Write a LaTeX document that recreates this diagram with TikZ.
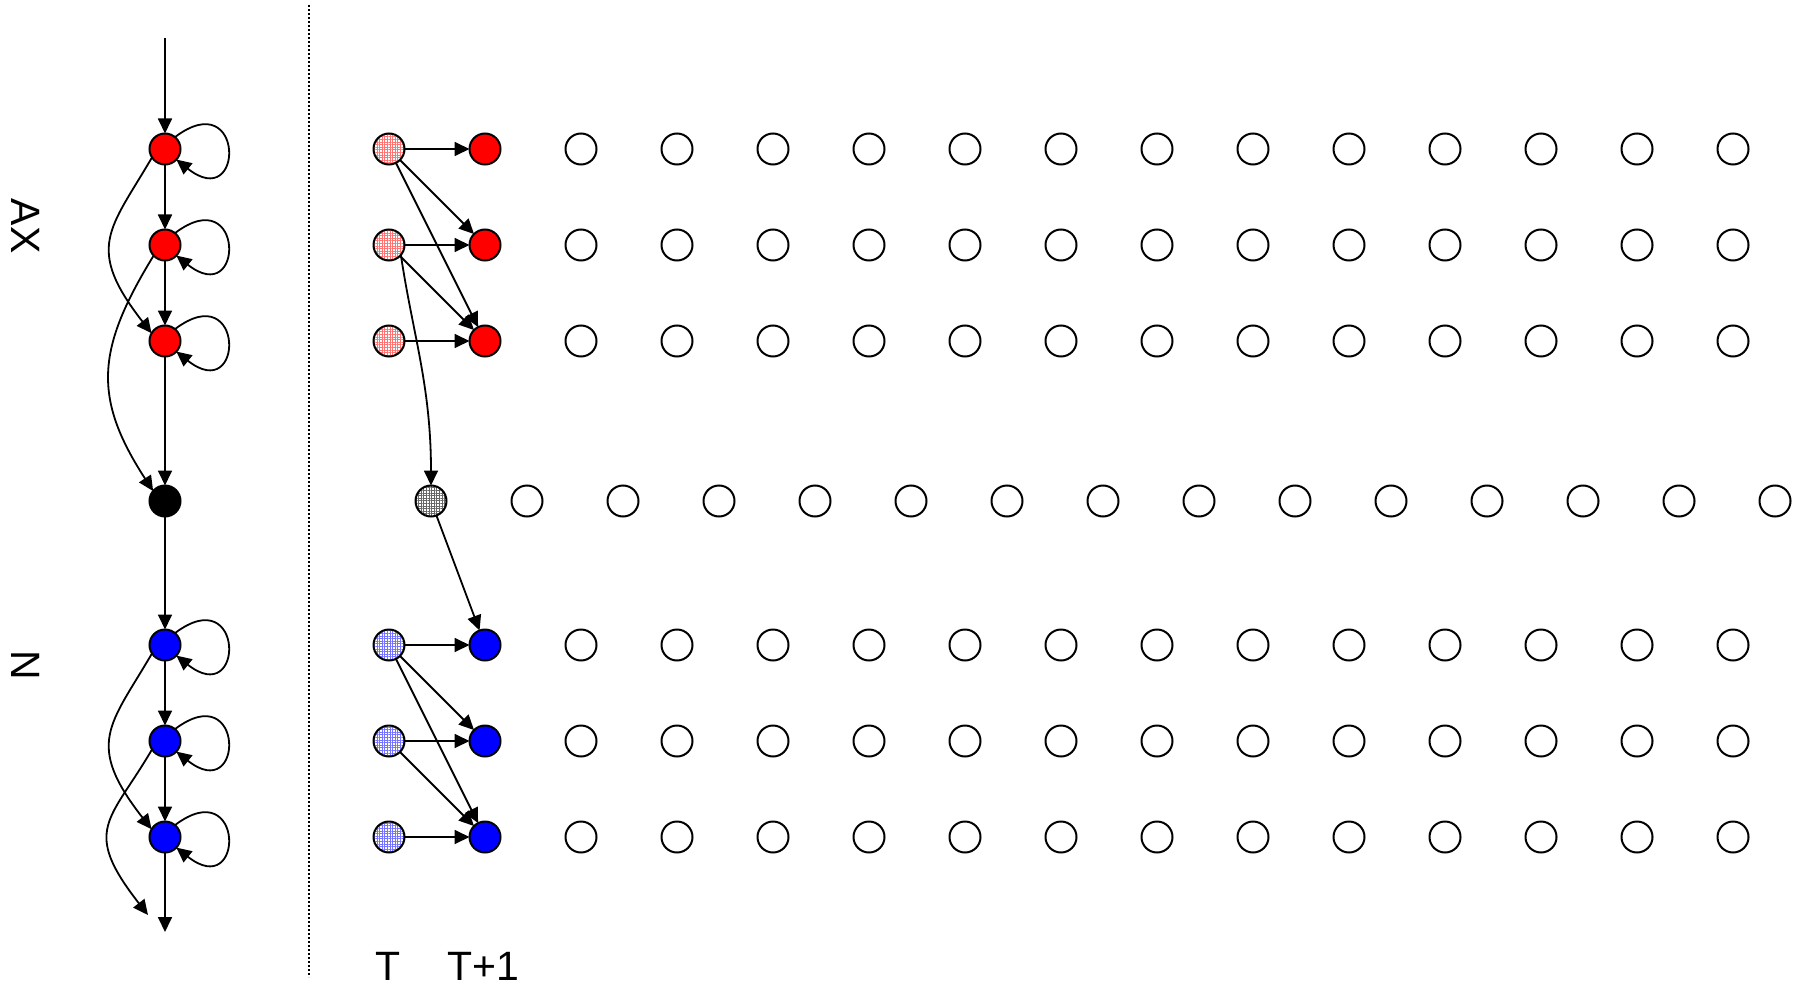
\documentclass[tikz,border=0pt]{standalone}
\usepackage{fontspec}
\setmainfont{Liberation Sans}
\usetikzlibrary{arrows.meta,calc,patterns.meta}
\begin{document}
\begin{tikzpicture}[x=1pt,y=-1pt,
  arr/.style={line width=1.8pt,-{Triangle[length=15pt,width=14pt]}},
  st/.style={circle,draw,line width=2pt,minimum size=31pt,inner sep=0pt,outer sep=0pt},
  rednode/.style={st,fill=red},
  bluenode/.style={st,fill=blue},
  blacknode/.style={st,fill=black},
  opennode/.style={st},
  pinknode/.style={st,preaction={fill=white},pattern={Hatch[distance=2.6pt,line width=0.7pt]},pattern color=red!55},
  lbluenode/.style={st,preaction={fill=white},pattern={Hatch[distance=2.6pt,line width=0.7pt]},pattern color=blue!55},
  graynode/.style={st,preaction={fill=white},pattern={Hatch[distance=2.6pt,line width=0.7pt]},pattern color=black!60},
  lbl/.style={font=\fontsize{41}{49}\selectfont,inner sep=0pt,outer sep=0pt},
  dotline/.style={line width=2.2pt,dash pattern=on 2pt off 2pt}
]
\useasboundingbox (0,0) rectangle (1801,987);

% coordinates
\coordinate (top) at (165,38);
\coordinate (bot) at (165,932);
\coordinate (bend) at (148,915);
\coordinate (dtop) at (309,5);
\coordinate (dbot) at (309,977);

% separator
\draw[dotline] (dtop) -- (dbot);

% left column
\node[rednode] (r1) at (165,149) {};
\node[rednode] (r2) at (165,245) {};
\node[rednode] (r3) at (165,341) {};
\node[blacknode] (bk) at (165,501) {};
\node[bluenode] (b1) at (165,645) {};
\node[bluenode] (b2) at (165,741) {};
\node[bluenode] (b3) at (165,837) {};

\draw[arr] (top) -- (r1);
\draw[arr] (r1) -- (r2);
\draw[arr] (r2) -- (r3);
\draw[arr] (r3) -- (bk);
\draw[arr] (bk) -- (b1);
\draw[arr] (b1) -- (b2);
\draw[arr] (b2) -- (b3);
\draw[arr] (b3) -- (bot);

\foreach \n in {r1,r2,r3,b1,b2,b3}
  \draw[arr] (\n.50) .. controls ($(\n)+(80,-65)$) and ($(\n)+(80,65)$) .. (\n.-43);

\draw[arr] (r1.213) .. controls +(-42,72) and +(-67,-86) .. (r3.150);
\draw[arr] (r2.223) .. controls +(-57,93) and +(-61,-94) .. (bk.140);
\draw[arr] (b1.213) .. controls +(-42,72) and +(-67,-86) .. (b3.150);
\draw[arr] (b2.213) .. controls +(-42,72) and +(-67,-86) .. (bend);

% right part: T and T+1
\node[pinknode] (tr1) at (389,149) {};
\node[pinknode] (tr2) at (389,245) {};
\node[pinknode] (tr3) at (389,341) {};
\node[rednode] (ur1) at (485,149) {};
\node[rednode] (ur2) at (485,245) {};
\node[rednode] (ur3) at (485,341) {};
\node[graynode] (tg) at (431,501) {};
\node[lbluenode] (tb1) at (389,645) {};
\node[lbluenode] (tb2) at (389,741) {};
\node[lbluenode] (tb3) at (389,837) {};
\node[bluenode] (ub1) at (485,645) {};
\node[bluenode] (ub2) at (485,741) {};
\node[bluenode] (ub3) at (485,837) {};

\draw[arr] (tr1) -- (ur1);
\draw[arr] (tr1) -- (ur2);
\draw[arr] (tr1) -- (ur3);
\draw[arr] (tr2) -- (ur2);
\draw[arr] (tr2) -- (ur3);
\draw[arr] (tr3) -- (ur3);
\draw[arr] (tr2.-40) .. controls +(12,80) and +(0,-100) .. (tg.north);
\draw[arr] (tg) -- (ub1);
\draw[arr] (tb1) -- (ub1);
\draw[arr] (tb1) -- (ub2);
\draw[arr] (tb1) -- (ub3);
\draw[arr] (tb2) -- (ub2);
\draw[arr] (tb2) -- (ub3);
\draw[arr] (tb3) -- (ub3);

% open circles
\foreach \i in {0,...,12} {
  \node[opennode] (oa\i) at ({581+96*\i},149) {};
  \node[opennode] (ob\i) at ({581+96*\i},245) {};
  \node[opennode] (oc\i) at ({581+96*\i},341) {};
  \node[opennode] (od\i) at ({581+96*\i},645) {};
  \node[opennode] (oe\i) at ({581+96*\i},741) {};
  \node[opennode] (of\i) at ({581+96*\i},837) {};
}
\foreach \i in {0,...,13}
  \node[opennode] (og\i) at ({527+96*\i},501) {};

% labels
\node[lbl,rotate=-90,anchor=base] (ax) at (12,226) {AX};
\node[lbl,rotate=-90,anchor=base] (nn) at (12,665) {N};
\node[lbl,anchor=base] (lt) at (388,980) {T};
\node[lbl,anchor=base] (lt1) at (483,980) {T+1};
\end{tikzpicture}
\end{document}
